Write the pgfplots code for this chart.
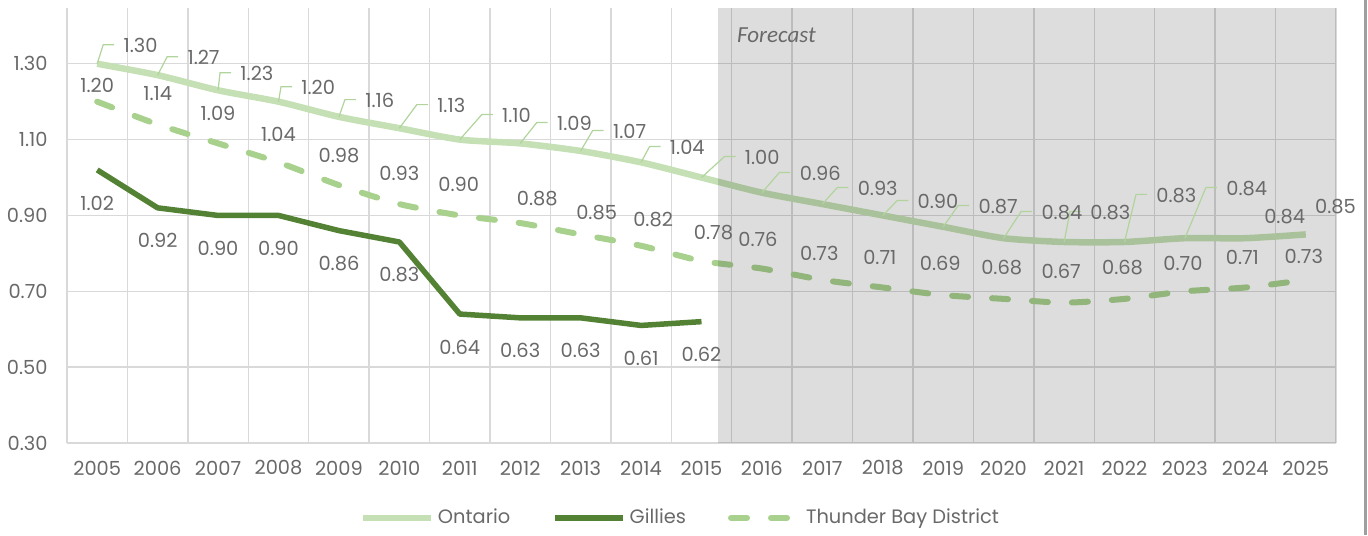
\documentclass[border=0pt]{standalone}
\usepackage{fontspec}
\setmainfont{Poppins}
\newfontfamily\calibri{Carlito}
\usepackage{pgfplots}
\pgfplotsset{compat=1.18}
\usepackage{pgfplotstable}

\definecolor{ont}{RGB}{197,224,180}
\definecolor{gil}{RGB}{84,130,53}
\definecolor{tbd}{RGB}{169,209,142}
\definecolor{lead}{RGB}{176,212,156}
\definecolor{txt}{RGB}{105,105,105}
\definecolor{grd}{RGB}{217,217,217}

\pgfdeclareplotmark{blank}{}

% Ontario: value, leader bend offset (px, up positive), leader on/off
\pgfplotstableread{
year v bx uy hl
2005 1.30 6 19 1
2006 1.27 9.5 18.4 1
2007 1.23 2 17.6 1
2008 1.20 2.5 15 1
2009 1.16 6 17.2 1
2010 1.13 17.5 23.6 1
2011 1.10 22 25 1
2012 1.09 16.5 20.8 1
2013 1.07 12 20.4 1
2014 1.04 8.5 15.8 1
2015 1.00 23 21 1
2016 0.96 17.5 20.2 1
2017 0.93 15 16.6 1
2018 0.90 14.5 15 1
2019 0.87 15 21.4 1
2020 0.84 17.5 26.8 1
2021 0.83 6 30.6 1
2022 0.83 11.5 47.6 1
2023 0.84 21 50.8 1
2024 0.84 -1.5 22.8 0
2025 0.85 -11 29 0
}\ontario

\pgfplotstableread{
year v
2005 1.02
2006 0.92
2007 0.90
2008 0.90
2009 0.86
2010 0.83
2011 0.64
2012 0.63
2013 0.63
2014 0.61
2015 0.62
}\gillies

% Thunder Bay District: value, label offset (px)
\pgfplotstableread{
year v dx dy
2005 1.20 0 16
2006 1.14 0 31
2007 1.09 0 30
2008 1.04 0 28
2009 0.98 0 30
2010 0.93 0 31
2011 0.90 -1 31
2012 0.88 17 24
2013 0.85 16 22
2014 0.82 12 26
2015 0.78 12 28
2016 0.76 -4 29
2017 0.73 -3 27
2018 0.71 -3 30
2019 0.69 -3 32
2020 0.68 -2 31
2021 0.67 -3 31
2022 0.68 -2 31
2023 0.70 -2 28
2024 0.71 -3 30
2025 0.73 -2 24
}\thunder

\begin{document}
\begin{tikzpicture}
\useasboundingbox (-33.5pt,-46pt) rectangle (650.5pt,221.5pt);
\begin{axis}[
    at={(0pt,0pt)}, anchor=south west,
    scale only axis,
    width=634.5pt, height=217.5pt,
    xmin=2004.5, xmax=2025.5,
    ymin=0.30, ymax=1.447,
    xtick={2005,...,2025},
    minor xtick={2004.5,2005.5,...,2025.5},
    ytick={0.30,0.50,0.70,0.90,1.10,1.30},
    x tick label style={/pgf/number format/1000 sep={}},
    y tick label style={/pgf/number format/fixed, /pgf/number format/zerofill,
        /pgf/number format/precision=2},
    /pgf/number format/assume math mode=true,
    major tick length=0pt, minor tick length=0pt,
    xminorgrids=true, xmajorgrids=false, ymajorgrids=true,
    grid style={grd, line width=0.75pt},
    minor grid style={grd, line width=0.75pt},
    axis x line*=bottom, axis y line*=left,
    axis line style={grd, line width=0.75pt, -},
    tick label style={font=\fontsize{9.7}{12}\selectfont, text=txt},
    xticklabel style={anchor=center, yshift=-12.5pt},
    yticklabel style={anchor=east, inner sep=0pt, xshift=-9.5pt},
    legend style={at={(0.484,-0.172)}, anchor=center, draw=none, fill=none,
        font=\fontsize{9.7}{12}\selectfont, text=txt, legend columns=3,
        /tikz/every even column/.append style={column sep=19pt}},
    legend image code/.code={\draw[#1] (0pt,0pt) -- (34pt,0pt);},
    clip=false,
]
% lines
\addplot[ont, line width=3.25pt, smooth, tension=0.4] table[x=year,y=v]{\ontario};
\addlegendentry{Ontario}
\addplot[gil, line width=2.75pt, line join=round] table[x=year,y=v]{\gillies};
\addlegendentry{Gillies}
\addplot[tbd, line width=3pt, line cap=round, dash pattern=on 8pt off 12pt, smooth, tension=0.4] table[x=year,y=v]{\thunder};
\addlegendentry{Thunder Bay District}

% Gillies labels
\addplot[forget plot, only marks, mark=blank, point meta=y,
    nodes near coords={\pgfmathprintnumber[fixed,zerofill,precision=2]{\pgfplotspointmeta}},
    every node near coord/.append style={anchor=center, inner sep=0pt, yshift=-16.5pt,
        text=txt, font=\fontsize{9.7}{12}\selectfont}]
    table[x=year,y=v]{\gillies};

% Thunder Bay labels
\addplot[forget plot, only marks, mark=blank, point meta=y,
    visualization depends on={\thisrow{dx}\as\dx},
    visualization depends on={\thisrow{dy}\as\dy},
    nodes near coords={\pgfmathprintnumber[fixed,zerofill,precision=2]{\pgfplotspointmeta}},
    every node near coord/.append style={anchor=center, inner sep=0pt,
        xshift={\dx*0.5pt}, yshift={\dy*0.5pt},
        text=txt, font=\fontsize{9.7}{12}\selectfont}]
    table[x=year,y=v]{\thunder};

% Ontario leader lines
\addplot[forget plot, scatter, only marks, mark=blank, point meta=y,
    visualization depends on={\thisrow{bx}\as\bx},
    visualization depends on={\thisrow{uy}\as\uy},
    visualization depends on={\thisrow{hl}\as\hl},
    scatter/@pre marker code/.code={%
        \ifdim\hl pt>0.5pt
          \draw[lead, line width=0.6pt] (0pt,0pt) -- ({\bx*0.5pt},{\uy*0.5pt}) -- ({(\bx+11)*0.5pt},{\uy*0.5pt});
        \fi},
    scatter/@post marker code/.code={}]
    table[x=year,y=v]{\ontario};

% Ontario labels
\addplot[forget plot, only marks, mark=blank, point meta=y,
    visualization depends on={\thisrow{bx}\as\bx},
    visualization depends on={\thisrow{uy}\as\uy},
    nodes near coords={\pgfmathprintnumber[fixed,zerofill,precision=2]{\pgfplotspointmeta}},
    every node near coord/.append style={anchor=west, inner sep=0pt,
        xshift={(\bx+20)*0.5pt}, yshift={(\uy-1)*0.5pt},
        text=txt, font=\fontsize{9.7}{12}\selectfont}]
    table[x=year,y=v]{\ontario};

% forecast shading
\fill[black, opacity=0.135] (axis cs:2015.27,0.30) rectangle (axis cs:2025.5,1.447);
\node[anchor=west, inner sep=0pt, text=txt, font=\calibri\itshape\fontsize{11.5}{13}\selectfont]
    at (axis cs:2015.27,1.447) [xshift=9.5pt, yshift=-13.5pt] {Forecast};
\end{axis}
\draw[gray!75, line width=1.5pt] (649pt,-46pt) -- (649pt,221.5pt);
\end{tikzpicture}
\end{document}
